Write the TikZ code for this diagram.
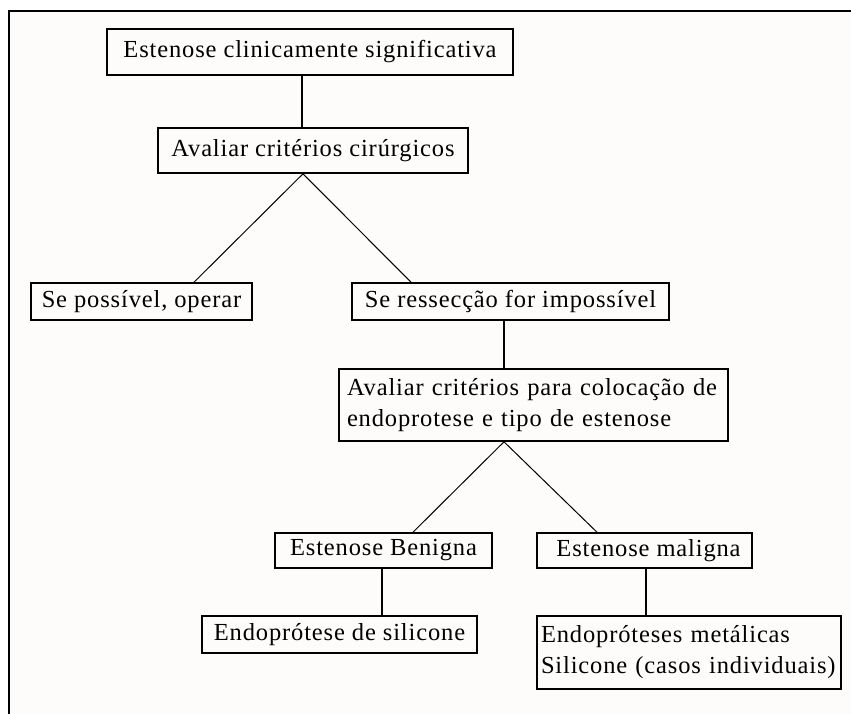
\documentclass[tikz,border=0pt]{standalone}
\usepackage{fontspec}
\setmainfont{Liberation Serif}[LetterSpace=3.5]
\definecolor{bg}{RGB}{253,252,250}
\begin{document}
\begin{tikzpicture}[x=1pt,y=-1pt,
  box/.style={draw=black, line width=1.6pt, fill=bg, inner sep=0pt,
    font=\fontsize{24.5}{31}\selectfont},
  link/.style={line width=1.4pt},
  diag/.style={line width=1pt}]
\useasboundingbox (0,0) rectangle (851,713);
\clip (0,0) rectangle (851,713);
\fill[white] (0,0) rectangle (851,713);
\draw[line width=2pt, fill=bg] (9,11) rectangle (880,740);

\node[box, minimum width=406pt, minimum height=46pt] (b1) at (310,52) {Estenose clinicamente significativa};
\node[box, minimum width=310pt, minimum height=45pt] (b2) at (313,150.5) {Avaliar critérios cirúrgicos};
\node[box, minimum width=221pt, minimum height=37pt] (b3) at (141.5,301.5) {Se possível, operar};
\node[box, minimum width=317pt, minimum height=37pt] (b4) at (510.5,301.5) {Se ressecção for impossível};
\node[box, minimum width=389pt, minimum height=72pt, text width=373pt, align=left] (b5) at (533.5,405)
  {\mbox{Avaliar critérios para colocação de}\\\mbox{endoprotese e tipo de estenose}};
\node[box, minimum width=217pt, minimum height=35pt] (b6) at (383.5,550.5) {Estenose Benigna};
\node[box, minimum width=275pt, minimum height=37pt] (b7) at (339.5,634.5) {Endoprótese de silicone};
\node[box, minimum width=215pt, minimum height=35pt] (b8) at (644.5,550.5) {\hspace*{8pt}Estenose maligna};
\node[box, minimum width=304pt, minimum height=73pt, text width=296pt, align=left] (b9) at (689,652.5)
  {\mbox{Endopróteses metálicas}\\\mbox{Silicone (casos individuais)}};

\draw[link] (b1.south -| 302,0) -- (b2.north -| 302,0);
\draw[diag] (b2.south -| 303,0) -- (b3.north -| 194,0);
\draw[diag] (b2.south -| 303,0) -- (b4.north -| 411,0);
\draw[link] (b4.south -| 504,0) -- (b5.north -| 504,0);
\draw[diag] (b5.south -| 504,0) -- (b6.north -| 413,0);
\draw[diag] (b5.south -| 504,0) -- (b8.north -| 597,0);
\draw[link] (b6.south -| 382,0) -- (b7.north -| 382,0);
\draw[link] (b8.south -| 646,0) -- (b9.north -| 646,0);
\end{tikzpicture}
\end{document}
